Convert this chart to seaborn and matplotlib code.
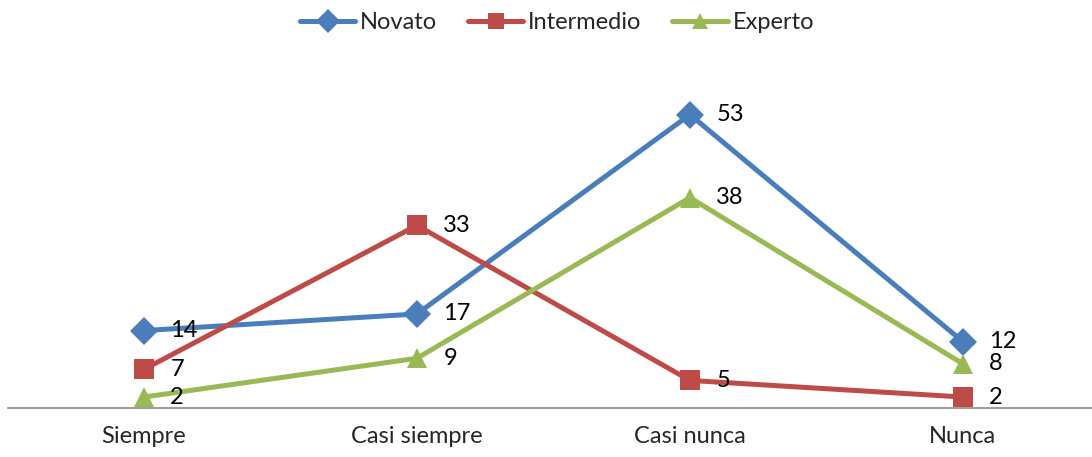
import pandas as pd
import matplotlib
matplotlib.use("Agg")
import matplotlib.pyplot as plt
import seaborn as sns

# data
categorias = ["Siempre", "Casi siempre", "Casi nunca", "Nunca"]
novato = [14, 17, 53, 12]
intermedio = [7, 33, 5, 2]
experto = [2, 9, 38, 8]

series = ["Novato", "Intermedio", "Experto"]
colores = ["#4A7EBB", "#BE4B48", "#98B954"]
marcadores = ["D", "s", "^"]

df = pd.DataFrame({
    "cat": categorias * 3,
    "x": list(range(len(categorias))) * 3,
    "valor": novato + intermedio + experto,
    "serie": [s for s in series for _ in categorias],
})

sns.set_style("white")
plt.rcParams["font.family"] = ["Lato", "DejaVu Sans"]

fig = plt.figure(figsize=(10.92, 4.57), dpi=100)
ax = fig.add_axes([0.00687, 0.107, 0.99313, 0.727])

sns.lineplot(data=df, x="x", y="valor", hue="serie", style="serie",
             palette=colores, markers=marcadores, dashes=False,
             linewidth=3.6, markersize=14, markeredgewidth=0, ax=ax,
             legend=False)

# data labels to the right of each point
for s, vals in zip(series, [novato, intermedio, experto]):
    for i, v in enumerate(vals):
        ax.annotate(str(v), (i, v), xytext=(19, 0), textcoords="offset points",
                    ha="left", va="center", fontsize=17, color="black")

ax.set_xlim(-0.5, 3.473)
ax.set_ylim(0, 60)
ax.set_xticks(range(len(categorias)))
ax.set_xticklabels(categorias, fontsize=17)
ax.tick_params(axis="x", length=0, pad=13)
ax.set_yticks([])
ax.set_xlabel("")
ax.set_ylabel("")
for side in ["top", "right", "left"]:
    ax.spines[side].set_visible(False)
ax.spines["bottom"].set_color("#8C8C8C")
ax.spines["bottom"].set_linewidth(1.2)

handles = [plt.Line2D([], [], color=c, marker=m, linewidth=3.6, markersize=12,
                      markeredgewidth=0) for c, m in zip(colores, marcadores)]
fig.legend(handles, series, loc="center", bbox_to_anchor=(0.51, 0.95), ncol=3,
           frameon=False, fontsize=17, handlelength=2.35, handletextpad=0.2,
           columnspacing=1.3)

fig.savefig("out.png", dpi=100)
